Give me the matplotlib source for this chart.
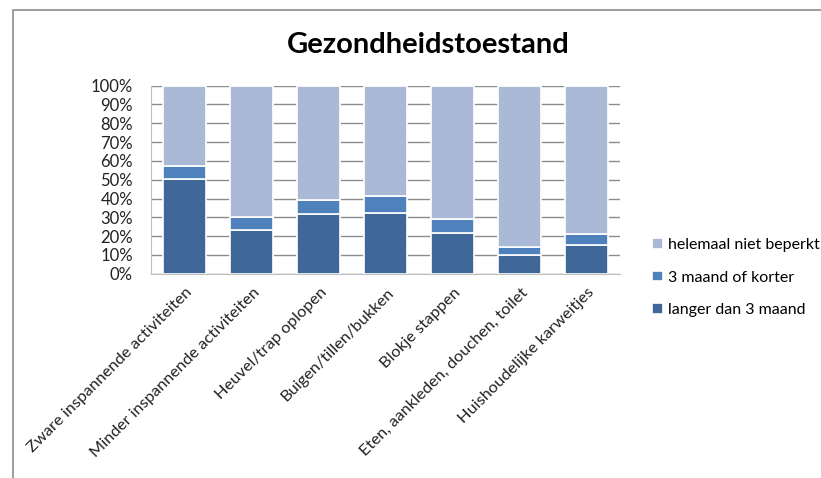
import matplotlib
matplotlib.use("Agg")
import matplotlib.pyplot as plt
from matplotlib.patches import Rectangle
from matplotlib.transforms import ScaledTranslation
import numpy as np

categories = ["Zware inspannende activiteiten", "Minder inspannende activiteiten",
              "Heuvel/trap oplopen", "Buigen/tillen/bukken", "Blokje stappen",
              "Eten, aankleden, douchen, toilet", "Huishoudelijke karweitjes"]
langer = [50.4, 23.1, 31.8, 32.5, 21.6, 9.8, 15.4]
korter = [7.1, 7.1, 7.2, 9.0, 7.5, 4.6, 5.9]
niet = [100 - a - b for a, b in zip(langer, korter)]
series_names = ["langer dan 3 maand", "3 maand of korter", "helemaal niet beperkt"]
colors = ["#3F6899", "#4F81BD", "#A9B9D6"]
yticks = list(range(0, 101, 10))

plt.rcParams['font.family'] = ['Lato', 'DejaVu Sans']

W, H = 821, 478
fig = plt.figure(figsize=(W/100, H/100), dpi=100)
fig.patch.set_facecolor("white")

# chart border (clipped at right/bottom)
fig.add_artist(Rectangle((13/W, -0.1), 1.2, (H - 10)/H + 0.1, transform=fig.transFigure,
                         fill=False, edgecolor="#8c8c8c", linewidth=1.2))

ax = fig.add_axes([151/W, (H - 273.7)/H, (620 - 151)/W, 188/H])
x = np.arange(len(categories))
bw = 0.64
bottom = np.zeros(len(categories))
handles = []
for vals, name, c in zip([langer, korter, niet], series_names, colors):
    b = ax.bar(x, vals, bw, bottom=bottom, color=c, edgecolor="white", linewidth=1.2,
               label=name, zorder=3)
    handles.append(b)
    bottom += np.array(vals)

ax.set_xlim(-0.5, len(categories) - 0.5)
ax.set_ylim(0, 100)
ax.set_yticks(yticks)
ax.set_yticklabels([f"{v}%" for v in yticks], fontsize=12, color="#222222")
ax.yaxis.grid(True, color="#8c8c8c", linewidth=1.0, zorder=0)
ax.set_axisbelow(True)
for s in ["top", "right"]:
    ax.spines[s].set_visible(False)
ax.spines["left"].set_color("#bfbfbf")
ax.spines["bottom"].set_color("#bfbfbf")
ax.tick_params(axis="y", length=0, pad=13)
ax.tick_params(axis="x", length=0, pad=7)
ax.set_xticks(x)
ax.set_xticklabels(categories, rotation=45, ha="right", rotation_mode="anchor",
                   fontsize=11.8, color="#222222")
off = ScaledTranslation(1/100, -2/100, fig.dpi_scale_trans)
for lbl in ax.get_xticklabels():
    lbl.set_transform(lbl.get_transform() + off)

fig.text(428.5/W, 1 - 45/H, "Gezondheidstoestand", ha="center", va="center",
         fontsize=21, fontweight="bold", color="#000000")

leg = fig.legend(handles[::-1], series_names[::-1], loc="upper left",
                 bbox_to_anchor=(638/W, 1 - 224/H), frameon=False, fontsize=11.5,
                 handlelength=0.65, handleheight=0.65, handletextpad=0.35,
                 labelspacing=1.15)

fig.savefig("out.png", dpi=100)
